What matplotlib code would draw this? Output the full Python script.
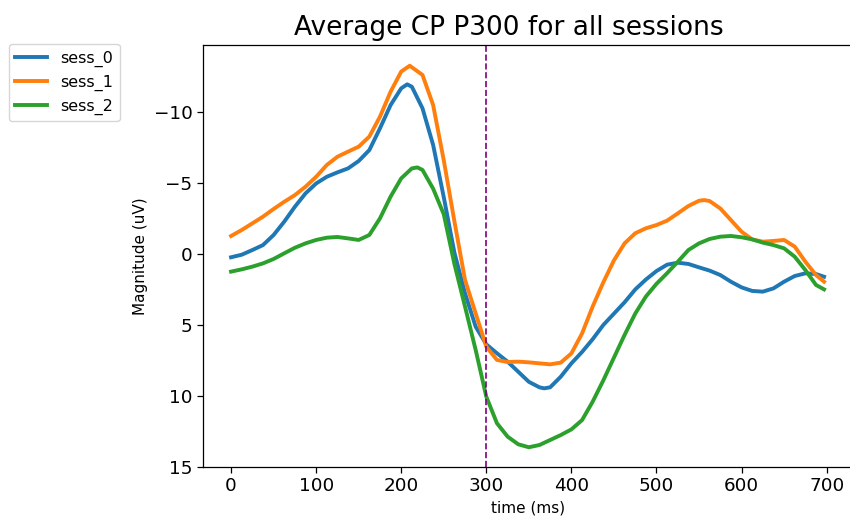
import numpy as np
import matplotlib
matplotlib.use("Agg")
import matplotlib.pyplot as plt

# Averaged CP P300 traces (time in ms, magnitude in uV)
t_sess0 = [0, 12.5, 25, 37.5, 50, 62.5, 75, 87.5, 100, 112.5, 125, 137.5, 150, 162.5,
           175, 187.5, 200, 207, 212.5, 225, 237.5, 250, 262.5, 275, 287.5, 300, 312.5,
           325, 337.5, 350, 362.5, 368, 375, 387.5, 400, 412.5, 425, 437.5, 450, 462.5,
           475, 487.5, 500, 512.5, 525, 537.5, 550, 562.5, 575, 587.5, 600, 612.5, 625,
           637.5, 650, 662.5, 675, 687.5, 697]
v_sess0 = [0.23, 0.05, -0.28, -0.63, -1.34, -2.28, -3.33, -4.27, -4.97, -5.44, -5.75,
           -6.03, -6.55, -7.32, -8.85, -10.49, -11.67, -11.95, -11.78, -10.26, -7.68,
           -4.0, -0.1, 2.77, 5.12, 6.36, 6.99, 7.58, 8.29, 9.0, 9.39, 9.46, 9.39, 8.64,
           7.7, 6.9, 6.0, 5.0, 4.2, 3.4, 2.5, 1.8, 1.2, 0.75, 0.61, 0.7, 0.94, 1.17, 1.48,
           1.95, 2.35, 2.6, 2.65, 2.42, 1.95, 1.55, 1.36, 1.41, 1.6]

t_sess1 = [0, 12.5, 25, 37.5, 50, 62.5, 75, 87.5, 100, 112.5, 125, 137.5, 150, 162.5,
           175, 187.5, 200, 210, 225, 237.5, 250, 262.5, 275, 287.5, 300, 312.5, 325,
           337.5, 350, 362.5, 375, 387.5, 400, 412.5, 425, 437.5, 450, 462.5, 475, 487.5,
           500, 512.5, 525, 537.5, 550, 556, 562.5, 575, 587.5, 600, 612.5, 625, 637.5,
           650, 662.5, 675, 687.5, 697]
v_sess1 = [-1.27, -1.69, -2.16, -2.63, -3.17, -3.68, -4.15, -4.74, -5.44, -6.27, -6.85,
           -7.21, -7.56, -8.27, -9.67, -11.43, -12.85, -13.26, -12.61, -10.49, -6.6,
           -2.3, 1.83, 4.18, 6.53, 7.46, 7.61, 7.58, 7.63, 7.7, 7.77, 7.65, 7.0, 5.6,
           3.7, 2.0, 0.45, -0.75, -1.46, -1.81, -2.04, -2.35, -2.86, -3.38, -3.75, -3.8,
           -3.73, -3.21, -2.39, -1.57, -1.03, -0.87, -0.92, -0.99, -0.52, 0.54, 1.48, 1.95]

t_sess2 = [0, 12.5, 25, 37.5, 50, 62.5, 75, 87.5, 100, 112.5, 125, 137.5, 150, 162.5,
           175, 187.5, 200, 212.5, 219, 225, 237.5, 250, 262.5, 275, 287.5, 300, 312.5,
           325, 337.5, 350, 362.5, 375, 387.5, 400, 412.5, 425, 437.5, 450, 462.5, 475,
           487.5, 500, 512.5, 525, 537.5, 550, 562.5, 575, 587.5, 600, 612.5, 625, 637.5,
           650, 662.5, 675, 687.5, 697]
v_sess2 = [1.24, 1.08, 0.89, 0.66, 0.35, -0.05, -0.44, -0.75, -0.99, -1.15, -1.2, -1.1,
           -0.99, -1.34, -2.51, -4.04, -5.33, -6.03, -6.1, -5.92, -4.6, -2.8, 0.7, 3.71,
           6.76, 10.05, 11.92, 12.86, 13.4, 13.61, 13.45, 13.1, 12.75, 12.35, 11.7, 10.4,
           8.9, 7.3, 5.7, 4.2, 3.0, 2.1, 1.35, 0.55, -0.28, -0.75, -1.06, -1.22, -1.27,
           -1.18, -1.03, -0.8, -0.63, -0.4, 0.19, 1.13, 2.18, 2.49]

sessions = ["sess_0", "sess_1", "sess_2"]
onset_ms = 300

fig = plt.figure(figsize=(8.5, 5.25), dpi=100)
ax = fig.add_axes([203 / 850, 58 / 525, 650 / 850, 422 / 525])

for name, t, v in zip(sessions, [t_sess0, t_sess1, t_sess2], [v_sess0, v_sess1, v_sess2]):
    ax.plot(t, v, lw=2.8, label=name, solid_joinstyle="round")

ax.axvline(onset_ms, color="purple", ls="--", lw=1.2)

ax.set_xlim(-33, 731)
ax.set_ylim(15, -14.72)  # inverted: negative up
ax.set_xticks(np.arange(0, 701, 100))
ax.set_yticks(np.arange(-10, 16, 5))
ax.tick_params(labelsize=13.2, length=4, width=0.9)
for s in ax.spines.values():
    s.set_linewidth(0.9)
ax.spines["right"].set_visible(False)

ax.set_title("Average CP P300 for all sessions", fontsize=19, x=0.471, pad=7)
ax.set_xlabel("time (ms)", fontsize=11)
ax.set_ylabel("Magnitude (uV)", fontsize=11)

ax.legend(loc="upper left", bbox_to_anchor=(9 / 850, 1 - 44 / 525),
          bbox_transform=fig.transFigure, borderaxespad=0, fontsize=11.5)

fig.savefig("out.png", dpi=100, facecolor="white")
